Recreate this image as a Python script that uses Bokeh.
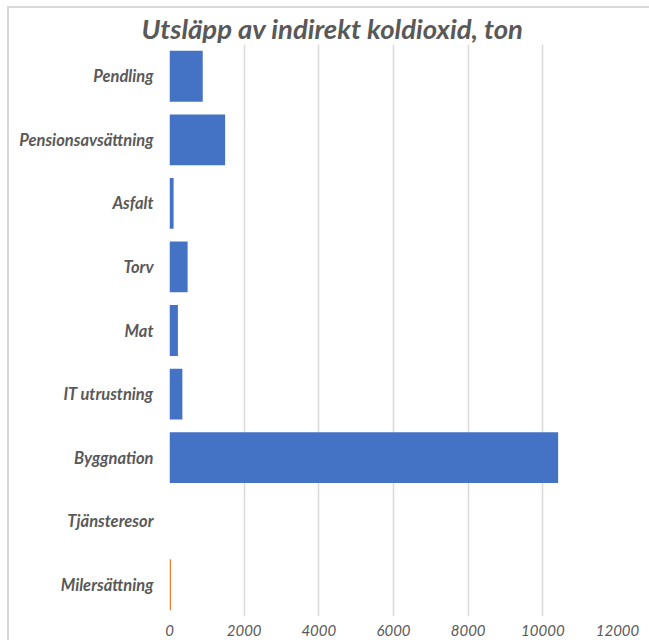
from bokeh.plotting import figure
from bokeh.models import ColumnDataSource, Title, FixedTicker
from bokeh.embed import file_html
from bokeh.resources import INLINE

categories = ["Pendling", "Pensionsavsättning", "Asfalt", "Torv", "Mat",
              "IT utrustning", "Byggnation", "Tjänsteresor", "Milersättning"]
values = [890, 1490, 110, 485, 225, 345, 10410, 0, 40]
colors = ["#4472C4"] * 8 + ["#ED7D31"]
x_ticks = [0, 2000, 4000, 6000, 8000, 10000, 12000]
title_text = "Utsläpp av indirekt koldioxid, ton"

src = ColumnDataSource(dict(cat=categories, val=values, color=colors))

p = figure(width=642, height=634, y_range=list(reversed(categories)),
           x_range=(0, 12000), output_backend="svg", toolbar_location=None,
           min_border_left=160, min_border_right=34, min_border_top=36,
           min_border_bottom=26, margin=(6, 0, 0, 7),
           styles={"border-left": "2px solid #d9d9d9",
                   "border-top": "2px solid #d9d9d9"})
p.title = None
p.outline_line_color = None
p.background_fill_color = "white"
p.border_fill_color = "white"

p.hbar(y="cat", right="val", height=0.8, left=0, fill_color="color",
       line_color=None, source=src)

p.xaxis.ticker = FixedTicker(ticks=x_ticks)
p.xgrid.ticker = FixedTicker(ticks=x_ticks)
p.xgrid.grid_line_color = "#d9d9d9"
p.xgrid.grid_line_width = 1.5
p.ygrid.grid_line_color = None

for ax in (p.xaxis, p.yaxis):
    ax.axis_line_color = None
    ax.major_tick_line_color = None
    ax.minor_tick_line_color = None
    ax.major_label_text_color = "#595959"
    ax.major_label_text_font = "Lato"
    ax.major_label_text_font_style = "bold italic"
    ax.major_label_text_font_size = "16.5px"

p.xaxis.major_label_text_font_style = "italic"
p.xaxis.major_label_text_font_size = "15px"
p.yaxis.major_label_standoff = 10
p.xaxis.major_label_standoff = 2

p.add_layout(Title(text=title_text, align="left", offset=-28,
                   text_font="Lato", text_font_style="bold italic",
                   text_font_size="27.5px", text_color="#595959",
                   standoff=0), "above")

open("out.html", "w").write(file_html(p, INLINE))
